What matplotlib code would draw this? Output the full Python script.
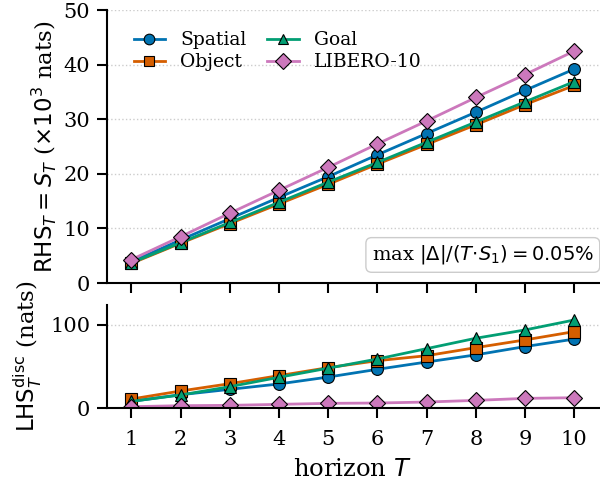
import matplotlib
matplotlib.use("Agg")
import matplotlib.pyplot as plt
import numpy as np

plt.rcParams['font.family'] = 'DejaVu Serif'
plt.rcParams['mathtext.fontset'] = 'dejavusans'

horizon = np.arange(1, 11)
labels = ['Spatial', 'Object', 'Goal', 'LIBERO-10']
colors = ['#0173b2', '#d55e00', '#029e73', '#cc78bc']
markers = ['o', 's', '^', 'D']

# RHS (x10^3 nats)
rhs_spatial = [3.9, 7.9, 11.8, 15.7, 19.5, 23.5, 27.4, 31.3, 35.3, 39.2]
rhs_object = [3.6, 7.3, 10.9, 14.5, 18.1, 21.8, 25.4, 29.0, 32.7, 36.2]
rhs_goal = [3.7, 7.4, 11.1, 14.8, 18.5, 22.1, 25.8, 29.5, 33.2, 36.9]
rhs_libero = [4.3, 8.5, 12.8, 17.0, 21.2, 25.5, 29.7, 34.0, 38.2, 42.5]

# LHS disc (nats)
lhs_spatial = [8.0, 16.0, 22.5, 29.0, 37.3, 46.6, 55.4, 64.0, 74.0, 83.0]
lhs_object = [10.8, 20.5, 29.3, 39.0, 48.6, 57.0, 63.0, 72.7, 82.0, 92.0]
lhs_goal = [8.0, 15.7, 25.7, 37.0, 48.0, 59.0, 71.5, 84.0, 94.0, 106.0]
lhs_libero = [1.6, 2.8, 3.2, 4.4, 5.6, 6.0, 7.2, 9.2, 11.6, 12.4]

rhs = [rhs_spatial, rhs_object, rhs_goal, rhs_libero]
lhs = [lhs_spatial, lhs_object, lhs_goal, lhs_libero]

fig, (ax1, ax2) = plt.subplots(2, 1, figsize=(6, 4.84), dpi=100,
                               gridspec_kw={'height_ratios': [273, 103]})
fig.subplots_adjust(left=0.178, right=0.998, top=0.979, bottom=0.157, hspace=0.117)

for i in range(4):
    ax1.plot(horizon, rhs[i], color=colors[i], marker=markers[i], lw=2, ms=8.5,
             mec='black', mew=0.8, label=labels[i])
    ax2.plot(horizon, lhs[i], color=colors[i], marker=markers[i], lw=2, ms=8.5,
             mec='black', mew=0.8)

for ax in (ax1, ax2):
    ax.spines['top'].set_visible(False)
    ax.spines['right'].set_visible(False)
    ax.spines['left'].set_linewidth(1.5)
    ax.spines['bottom'].set_linewidth(1.5)
    ax.tick_params(width=1.5, length=7, labelsize=15, pad=5)
    ax.tick_params(axis='x', pad=9)
    ax.grid(axis='y', linestyle=':', color='#cccccc', lw=1)
    ax.set_axisbelow(True)
    ax.set_xlim(0.5, 10.5)
    ax.set_xticks(horizon)

ax1.set_ylim(0, 50)
ax1.set_yticks([0, 10, 20, 30, 40, 50])
ax1.tick_params(labelbottom=False)
ax1.set_ylabel(r'$\mathrm{RHS}_T = S_T$ ($\times10^3$ nats)', fontsize=16.5)
ax1.legend(ncol=2, loc='upper left', frameon=False, fontsize=13.5,
           bbox_to_anchor=(0.02, 0.985), handlelength=1.7, columnspacing=1.1,
           handletextpad=0.8, labelspacing=0.22, markerscale=0.9)
ax1.text(0.99, 0.103, r'max $|\Delta|/(T{\cdot}S_1) = 0.05\%$', transform=ax1.transAxes,
         ha='right', va='center', fontsize=14,
         bbox=dict(boxstyle='round,pad=0.3', fc='white', ec='#cccccc'))

ax2.set_ylim(0, 124)
ax2.set_yticks([0, 100])
ax2.set_ylabel(r'$\mathrm{LHS}_T^{\mathrm{disc}}$ (nats)', fontsize=16.5)
ax2.set_xlabel(r'horizon $T$', fontsize=17.5, labelpad=6)

fig.savefig('out.png', dpi=100)
